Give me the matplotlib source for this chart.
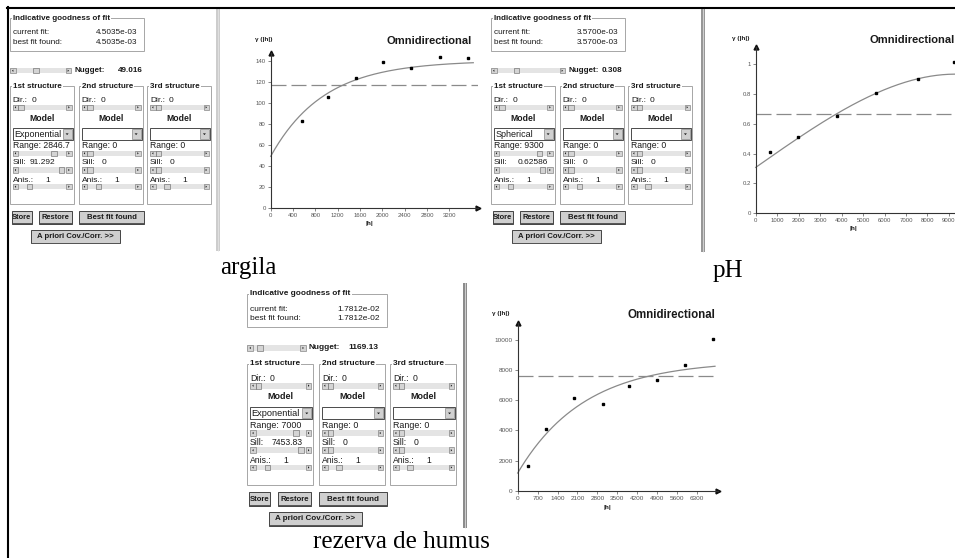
import numpy as np
import matplotlib
matplotlib.use("Agg")
import matplotlib.pyplot as plt
from matplotlib.patches import Rectangle, Polygon

plt.rcParams['font.family'] = ['Liberation Sans', 'DejaVu Sans']

W, H = 955, 558

argila_lag = [567, 1021, 1523, 2019, 2509, 3034, 3530]
argila_gamma = [82.4, 106.0, 123.6, 138.8, 133.0, 143.5, 142.6]
argila_var = 116.9
argila_xticks = [0, 400, 800, 1200, 1600, 2000, 2400, 2800, 3200]
argila_yticks = [0, 20, 40, 60, 80, 100, 120, 140]

ph_lag = [683, 1972, 3789, 5606, 7547, 9240]
ph_gamma = [0.412, 0.512, 0.651, 0.808, 0.902, 1.018]
ph_var = 0.669
ph_xticks = [0, 1000, 2000, 3000, 4000, 5000, 6000, 7000, 8000, 9000]
ph_yticks = [0, 0.2, 0.4, 0.6, 0.8, 1]
ph_yticklabels = ["0", "0.2", "0.4", "0.6", "0.8", "1"]

humus_lag = [375, 995, 1990, 2985, 3921, 4881, 5864, 6871]
humus_gamma = [1656, 4084, 6137, 5717, 6932, 7351, 8322, 10066]
humus_var = 7572
humus_xticks = [0, 700, 1400, 2100, 2800, 3500, 4200, 4900, 5600, 6300]
humus_yticks = [0, 2000, 4000, 6000, 8000, 10000]

# ---- values shown in the GS+ panels ----
panel_fit = ["4.5035e-03", "3.5700e-03", "1.7812e-02"]
panel_nugget = ["49.016", "0.308", "1169.13"]
panel_model = ["Exponential", "Spherical", "Exponential"]
panel_range = ["2846.7", "9300", "7000"]
panel_sill = ["91.292", "0.62586", "7453.83"]
struct_titles = ["1st structure", "2nd structure", "3rd structure"]
captions = ["argila", "pH", "rezerva de humus"]


def model(kind, h, c0, c, a):
    if kind == "Exponential":
        return c0 + c * (1 - np.exp(-3 * h / a))
    r = np.minimum(h / a, 1.0)
    return c0 + c * (1.5 * r - 0.5 * r ** 3)


fig = plt.figure(figsize=(W / 100, H / 100), dpi=100)
fig.patch.set_facecolor("white")
ov = fig.add_axes([0, 0, 1, 1])
ov.set_xlim(0, W)
ov.set_ylim(H, 0)
ov.axis("off")


def rect(x0, y0, x1, y1, **kw):
    ov.add_patch(Rectangle((x0, y0), x1 - x0, y1 - y0, **kw))


def label(x, y, s, fs=6.0, bold=False, ha="left", color="#1a1a1a"):
    ov.text(x, y, s, fontsize=fs, fontweight="bold" if bold else "normal",
            ha=ha, va="center", color=color)


def group(x0, y0, x1, y1, title, fs):
    rect(x0, y0, x1, y1, fill=False, ec="#a6a6a6", lw=0.7)
    ov.text(x0 + 3, y0, title, fontsize=fs, fontweight="bold", ha="left",
            va="center", color="#1a1a1a",
            bbox=dict(boxstyle="square,pad=0.12", fc="white", ec="none"))


def tri(xc, yc, s, d):
    if d == "l":
        pts = [(xc + s * 0.5, yc - s), (xc + s * 0.5, yc + s), (xc - s * 0.6, yc)]
    elif d == "r":
        pts = [(xc - s * 0.5, yc - s), (xc - s * 0.5, yc + s), (xc + s * 0.6, yc)]
    else:
        pts = [(xc - s, yc - s * 0.5), (xc + s, yc - s * 0.5), (xc, yc + s * 0.6)]
    ov.add_patch(Polygon(pts, closed=True, fc="#111111", ec="none"))


def slider(x0, x1, yc, h, frac):
    rect(x0, yc - h / 2, x1, yc + h / 2, fc="#e4e4e4", ec="none")
    for bx in (x0, x1 - h):
        rect(bx, yc - h / 2, bx + h, yc + h / 2, fc="#d4d4d4", ec="#707070", lw=0.4)
    tri(x0 + h / 2, yc, 1.2, "l")
    tri(x1 - h / 2, yc, 1.2, "r")
    tx = x0 + h + frac * (x1 - x0 - 3 * h)
    rect(tx, yc - h / 2, tx + h, yc + h / 2, fc="#d4d4d4", ec="#606060", lw=0.4)


def button(x0, y0, x1, y1, s, fs):
    rect(x0, y0, x1, y1, fc="#cfcfcf", ec="#2a2a2a", lw=0.6)
    ov.plot([x0 + 0.8, x1 - 0.8], [y1 - 0.6, y1 - 0.6], color="#555555", lw=0.7)
    label((x0 + x1) / 2, (y0 + y1) / 2, s, fs=fs, bold=True, ha="center")


def combo(x0, y0, x1, y1, s, fs):
    rect(x0, y0, x1, y1, fc="white", ec="#4a4a4a", lw=0.7)
    bw = (y1 - y0) * 0.75
    rect(x1 - bw - 1, y0 + 1, x1 - 1, y1 - 1, fc="#d0d0d0", ec="#707070", lw=0.4)
    tri(x1 - 1 - bw / 2, (y0 + y1) / 2, 1.5, "d")
    if s:
        label(x0 + 1.5, (y0 + y1) / 2, s, fs=fs)


# panel placement (origin x, origin y, scale x, scale y)
panel_origin = [(0, 0, 1.0, 1.0), (481, 0, 1.0, 1.0), (236.9, 275.15, 1.04, 1.03)]
nug_track_end = [71, 84, 66.4]
nug_label_x = [74, 87, 68.7]
nug_value_x = [118.3, 121, 107.1]
nug_thumb = [0.4, 0.3, 0.1]
range_thumb = [0.78, 0.88, 0.85]
sill_thumb = [0.95, 0.95, 0.95]
sill_val_x = [20, 27, 23.5]


def draw_panel(k):
    ox, oy, sx, sy = panel_origin[k]

    def X(v):
        return ox + v * sx

    def Y(v):
        return oy + v * sy

    fz = sy
    sh = 5.5 * sy
    group(X(10), Y(18.3), X(144), Y(50.7), "Indicative goodness of fit", 5.8 * fz)
    label(X(13), Y(33), "current fit:", 5.9 * fz)
    label(X(137), Y(33), panel_fit[k], 5.9 * fz, ha="right")
    label(X(13), Y(42), "best fit found:", 5.9 * fz)
    label(X(137), Y(42), panel_fit[k], 5.9 * fz, ha="right")

    slider(X(10), X(nug_track_end[k]), Y(70.7), sh, nug_thumb[k])
    label(X(nug_label_x[k]), Y(70.7), "Nugget:", 5.8 * fz, bold=True)
    label(X(nug_value_x[k]), Y(70.7), panel_nugget[k], 5.9 * fz, bold=True)

    for j, bx in enumerate([10, 79, 147.3]):
        first = j == 0
        group(X(bx), Y(86), X(bx + 63.5), Y(204), struct_titles[j], 5.8 * fz)
        label(X(bx + 2.7), Y(100), "Dir.:", 6.0 * fz)
        label(X(bx + 21.7), Y(100), "0", 6.0 * fz)
        slider(X(bx + 2.7), X(bx + 61.7), Y(107.3), sh, 0.0)
        label(X(bx + 32), Y(118.3), "Model", 6.2 * fz, bold=True, ha="center")
        combo(X(bx + 2.7), Y(128.3), X(bx + 62.5), Y(140),
              panel_model[k] if first else "", 6.5 * fz)
        label(X(bx + 2.7), Y(145.7),
              "Range: " + (panel_range[k] if first else "0"), 6.2 * fz)
        slider(X(bx + 2.7), X(bx + 61.7), Y(153.3), sh,
               range_thumb[k] if first else 0.0)
        label(X(bx + 2.7), Y(162.3), "Sill:", 6.0 * fz)
        label(X(bx + (sill_val_x[k] if first else 22.7)), Y(162.3),
              panel_sill[k] if first else "0", 6.0 * fz)
        slider(X(bx + 2.7), X(bx + 61.7), Y(170), sh,
               sill_thumb[k] if first else 0.0)
        label(X(bx + 2.7), Y(180), "Anis.:", 6.0 * fz)
        label(X(bx + 35), Y(180), "1", 6.0 * fz)
        slider(X(bx + 2.7), X(bx + 61.7), Y(186.7), sh, 0.2)

    button(X(11.7), Y(211), X(31.7), Y(224), "Store", 5.4 * fz)
    button(X(39.3), Y(211), X(71.7), Y(224), "Restore", 5.4 * fz)
    button(X(79.3), Y(211), X(144), Y(224), "Best fit found", 5.6 * fz)
    button(X(31), Y(230), X(120), Y(243.3), "A priori Cov./Corr. >>", 5.6 * fz)


for k in range(3):
    draw_panel(k)

# splitter bars between panel and graph
for x0, y0, x1, y1, c in [(216, 8, 220, 251, "#cdcdcd"),
                          (701, 8, 705, 252, "#979797"),
                          (462.7, 283, 466.7, 528, "#8c8c8c")]:
    rect(x0, y0, x1, y1, fc=c, ec="none")
    ov.plot([(x0 + x1) / 2, (x0 + x1) / 2], [y0, y1], color="#e8e8e8", lw=0.5)

# outer frame
ov.plot([7, W], [7.5, 7.5], color="black", lw=1.5)
ov.plot([8, 8], [7, H], color="black", lw=1.5)

# ---- variogram graphs ----
chart_box = [(270.7, 53.3, 478.4, 207.7), (755.7, 46.7, 981.1, 213.3),
             (517.7, 322.7, 718.3, 490.7)]
chart_xmax = [3722, 10500, 7046]
chart_ymax = [147.3, 1.118, 11126]
curve_end = [3630, 10500, 6930]
tick_fs = [4.3, 4.3, 4.6]

series = [
    (argila_lag, argila_gamma, argila_var, argila_xticks, argila_yticks, None),
    (ph_lag, ph_gamma, ph_var, ph_xticks, ph_yticks, ph_yticklabels),
    (humus_lag, humus_gamma, humus_var, humus_xticks, humus_yticks, None),
]

for k, (lag, gam, var, xt, yt, ytl) in enumerate(series):
    x0, y0, x1, y1 = chart_box[k]
    ax = fig.add_axes([x0 / W, 1 - y1 / H, (x1 - x0) / W, (y1 - y0) / H])
    ax.set_facecolor("none")
    ax.set_xlim(0, chart_xmax[k])
    ax.set_ylim(0, chart_ymax[k])
    for s in ("top", "right"):
        ax.spines[s].set_visible(False)
    for s in ("left", "bottom"):
        ax.spines[s].set_color("#333333")
        ax.spines[s].set_linewidth(0.8)
    ax.set_xticks(xt)
    ax.set_yticks(yt)
    if ytl:
        ax.set_yticklabels(ytl)
    ax.tick_params(length=2, width=0.5, colors="#555555", labelcolor="#555555",
                   labelsize=tick_fs[k], pad=1.5)

    h = np.linspace(0, curve_end[k], 300)
    g = model(panel_model[k], h, float(panel_nugget[k]), float(panel_sill[k]),
              float(panel_range[k]))
    ax.plot(h, g, color="#8a8a8a", lw=0.9, clip_on=False)
    ax.axhline(var, color="#8a8a8a", lw=0.9, dashes=(12, 4))
    ax.plot(lag, gam, "s", color="black", ms=1.7, clip_on=False)

    ax.plot(1, 0, ">", color="#111111", ms=3.5, transform=ax.transAxes, clip_on=False)
    ax.plot(0, 1, "^", color="#111111", ms=3.5, transform=ax.transAxes, clip_on=False)

# graph titles and axis labels
label(472, 41, "Omnidirectional", fs=8.0, bold=True, ha="right")
label(869, 40, "Omnidirectional", fs=8.0, bold=True, ha="left")
label(715, 314.5, "Omnidirectional", fs=8.3, bold=True, ha="right")
for x, y in [(255, 39), (731.7, 38.3), (492, 314)]:
    label(x, y, "γ (|h|)", fs=4.6, bold=True)
for x, y in [(369.5, 223), (853, 228.5), (607, 508)]:
    label(x, y, "|h|", fs=4.6, bold=True, ha="center")

# captions under the screenshots
for s, x, y in zip(captions, [248.5, 727.5, 401], [274, 276.7, 548]):
    ov.text(x, y, s, fontsize=18, family=["Liberation Serif", "DejaVu Serif"],
            ha="center", va="baseline", color="black")

fig.savefig("out.png", dpi=100)
